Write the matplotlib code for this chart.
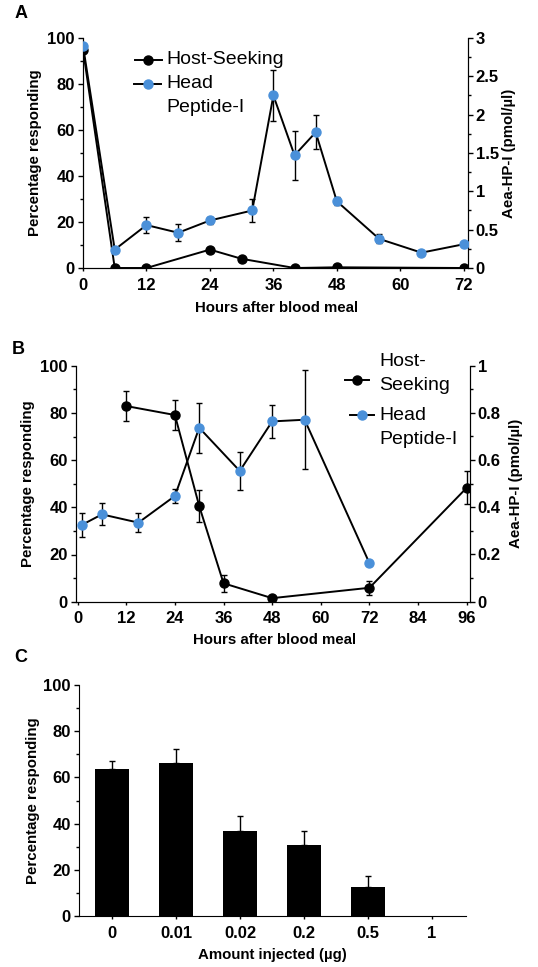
import numpy as np
import matplotlib
matplotlib.use("Agg")
from matplotlib import pyplot as plt
from matplotlib.lines import Line2D
from matplotlib.ticker import MultipleLocator

plt.rcParams['font.family'] = ['Liberation Sans', 'DejaVu Sans']

BLUE = '#4a90d9'
W, H = 538, 967

# Panel A
a_hs_x = [0, 6, 12, 24, 30, 40, 48, 72]
a_hs_y = [95, 0, 0, 8, 4, 0, 0.3, 0]
a_hp_x = [0, 6, 12, 18, 24, 32, 36, 40, 44, 48, 56, 64, 72]
a_hp_y = [2.90, 0.24, 0.56, 0.46, 0.62, 0.75, 2.25, 1.47, 1.77, 0.87, 0.38, 0.20, 0.31]
a_hp_err = [0, 0.02, 0.11, 0.11, 0.05, 0.15, 0.33, 0.32, 0.22, 0.05, 0.06, 0.02, 0.03]

# Panel B
b_hs_x = [12, 24, 30, 36, 48, 72, 96]
b_hs_y = [82.9, 79.1, 40.5, 7.8, 1.5, 5.9, 48.3]
b_hs_err = [6.2, 6.3, 6.7, 3.5, 0.5, 3.0, 7.0]
b_hp_x = [1, 6, 15, 24, 30, 40, 48, 56, 72]
b_hp_y = [0.325, 0.37, 0.335, 0.448, 0.737, 0.554, 0.764, 0.771, 0.163]
b_hp_err = [0.05, 0.047, 0.04, 0.03, 0.105, 0.08, 0.07, 0.21, 0]

# Panel C
c_labels = ['0', '0.01', '0.02', '0.2', '0.5', '1']
c_vals = [63.5, 66.4, 36.8, 30.9, 12.4, 0]
c_err = [3.7, 5.8, 6.6, 5.9, 5.1, 0]

fig = plt.figure(figsize=(W / 100, H / 100), dpi=100)

TICK_FS = 12
LAB_FS = 10.8


def px(x, y):
    # pixel (from top-left) -> figure fraction
    return x / W, 1 - y / H


def style_ax(ax, xlabel):
    ax.spines['top'].set_visible(False)
    ax.tick_params(axis='y', which='major', labelsize=TICK_FS, width=1.0, length=3.5, pad=2.5)
    ax.tick_params(axis='y', which='minor', width=1.0, length=2)
    ax.tick_params(axis='x', which='major', labelsize=TICK_FS, width=1.0, length=2, pad=5)
    for lab in ax.get_xticklabels() + ax.get_yticklabels():
        lab.set_fontweight('bold')
    ax.set_ylabel('Percentage responding', fontsize=LAB_FS, fontweight='bold')
    ax.set_xlabel(xlabel, fontsize=LAB_FS, fontweight='bold')


def style_right(ax2, ticks, ticklabels, minor):
    ax2.set_yticks(ticks)
    ax2.set_yticklabels(ticklabels)
    ax2.yaxis.set_minor_locator(MultipleLocator(minor))
    ax2.spines['top'].set_visible(False)
    ax2.tick_params(axis='y', which='major', labelsize=TICK_FS, width=1.0, length=3.5, pad=2)
    ax2.tick_params(axis='y', which='minor', width=1.0, length=2)
    for lab in ax2.get_yticklabels():
        lab.set_fontweight('bold')
    ax2.set_ylabel('Aea-HP-I (pmol/µl)', fontsize=LAB_FS, fontweight='bold')


def legend_row(x0, x1, y, face, text_x, lines, text_y):
    fx0, fy = px(x0, y)
    fx1, _ = px(x1, y)
    fig.add_artist(Line2D([fx0, fx1], [fy, fy], transform=fig.transFigure, color='black', lw=1.4))
    fig.add_artist(Line2D([(fx0 + fx1) / 2], [fy], transform=fig.transFigure, marker='o',
                          ms=6.5, mfc=face, mec=face, ls='none'))
    for line, ty in zip(lines, text_y):
        tx, tyf = px(text_x, ty)
        fig.text(tx, tyf, line, fontsize=14, va='center', ha='left')


# ---- A ----
ax = fig.add_axes([83 / W, 1 - 268 / H, 385 / W, 230 / H])
ax.plot(a_hs_x, a_hs_y, '-o', color='black', lw=1.4, ms=6.5, zorder=3)
ax.set_xlim(0, 72.8)
ax.set_ylim(0, 100)
ax.set_xticks([0, 12, 24, 36, 48, 60, 72])
ax.yaxis.set_minor_locator(MultipleLocator(10))
style_ax(ax, 'Hours after blood meal')
ax.yaxis.set_label_coords(-0.106, 0.5)
ax.xaxis.set_label_coords(0.504, -0.145)
ax2 = ax.twinx()
ax2.errorbar(a_hp_x, a_hp_y, yerr=a_hp_err, fmt='-o', color='black', mfc=BLUE, mec=BLUE,
             lw=1.4, ms=6.5, elinewidth=1.0, capsize=2.5, zorder=3)
ax2.set_ylim(0, 3)
style_right(ax2, [0, 0.5, 1, 1.5, 2, 2.5, 3], ['0', '0.5', '1', '1.5', '2', '2.5', '3'], 0.25)
ax2.yaxis.set_label_coords(1.088, 0.5)
legend_row(135, 162, 60, 'black', 166, ['Host-Seeking'], [60])
legend_row(134, 161, 84, BLUE, 166, ['Head', 'Peptide-I'], [84, 108])
fig.text(*px(15, 14), 'A', fontsize=13, fontweight='bold', va='center', ha='left')

# ---- B ----
ax = fig.add_axes([76 / W, 1 - 601.7 / H, 394 / W, 236 / H])
ax.errorbar(b_hs_x, b_hs_y, yerr=b_hs_err, fmt='-o', color='black', lw=1.4, ms=6.5,
            elinewidth=1.0, capsize=2.5, zorder=3)
ax.set_xlim(-0.4, 96.8)
ax.set_ylim(0, 100)
ax.set_xticks([0, 12, 24, 36, 48, 60, 72, 84, 96])
ax.yaxis.set_minor_locator(MultipleLocator(10))
style_ax(ax, 'Hours after blood meal')
ax.yaxis.set_label_coords(-0.104, 0.5)
ax.xaxis.set_label_coords(0.505, -0.132)
ax2 = ax.twinx()
ax2.errorbar(b_hp_x, b_hp_y, yerr=b_hp_err, fmt='-o', color='black', mfc=BLUE, mec=BLUE,
             lw=1.4, ms=6.5, elinewidth=1.0, capsize=2.5, zorder=3)
ax2.set_ylim(0, 1)
style_right(ax2, [0, 0.2, 0.4, 0.6, 0.8, 1], ['0', '0.2', '0.4', '0.6', '0.8', '1'], 0.1)
ax2.yaxis.set_label_coords(1.10, 0.5)
legend_row(345, 369, 380, 'black', 379, ['Host-', 'Seeking'], [362, 386])
legend_row(350, 374, 415, BLUE, 379, ['Head', 'Peptide-I'], [415, 440])
fig.text(*px(12, 349), 'B', fontsize=13, fontweight='bold', va='center', ha='left')

# ---- C ----
ax = fig.add_axes([79 / W, 1 - 916 / H, 387 / W, 231 / H])
xs = np.arange(len(c_labels))
ax.bar(xs, c_vals, width=0.53, color='black', zorder=2)
ax.errorbar(xs[:-1], c_vals[:-1], yerr=[np.zeros(len(xs) - 1), c_err[:-1]], fmt='none',
            ecolor='black', elinewidth=1.0, capsize=2.5, zorder=1)
ax.set_xlim(-0.52, 5.53)
ax.set_ylim(0, 100)
ax.set_xticks(xs)
ax.set_xticklabels(c_labels)
ax.yaxis.set_minor_locator(MultipleLocator(10))
ax.spines['right'].set_visible(False)
style_ax(ax, 'Amount injected (µg)')
ax.yaxis.set_label_coords(-0.10, 0.5)
ax.xaxis.set_label_coords(0.499, -0.138)
fig.text(*px(14, 658), 'C', fontsize=13, fontweight='bold', va='center', ha='left')

fig.savefig('out.png', dpi=100)
